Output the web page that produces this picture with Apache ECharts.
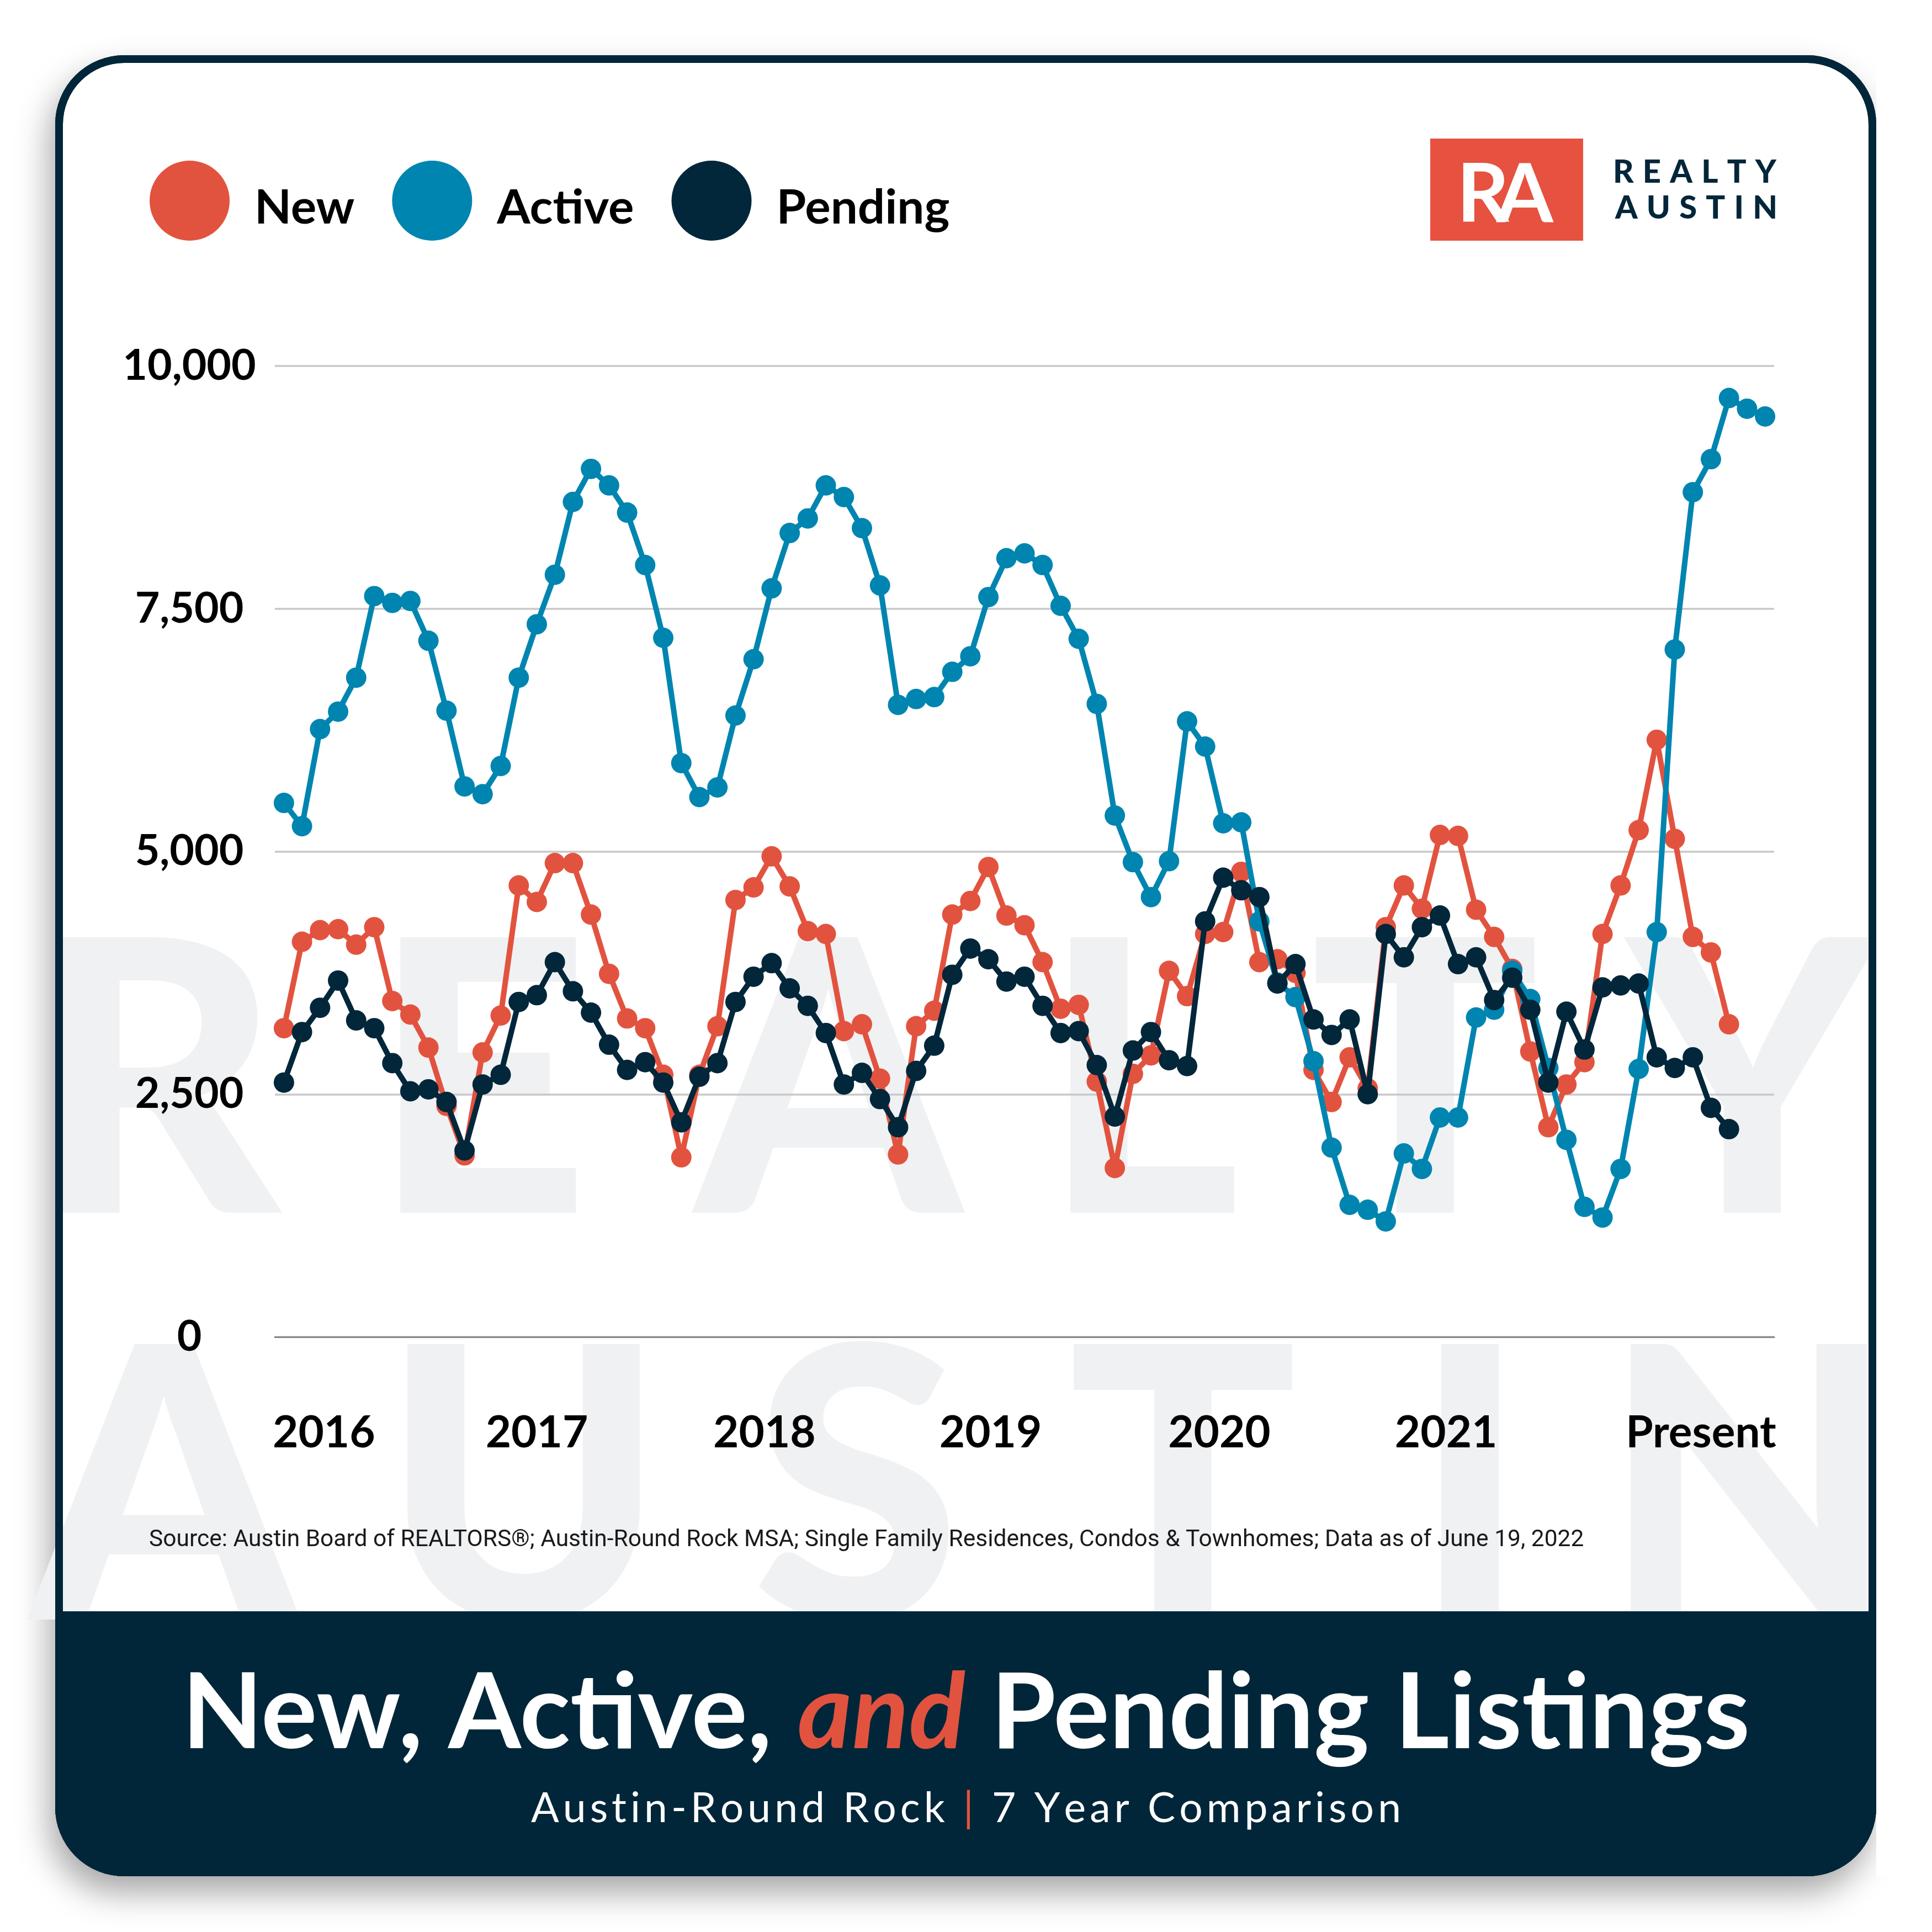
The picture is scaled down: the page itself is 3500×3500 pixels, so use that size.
<!DOCTYPE html>
<html>
<head>
<meta charset="utf-8">
<title>New, Active, and Pending Listings</title>
<script src="https://cdn.jsdelivr.net/npm/echarts/dist/echarts.min.js"></script>
<style>
  html, body { margin: 0; padding: 0; background: #ffffff; }
  #container { width: 3500px; height: 3500px; }
</style>
</head>
<body>
<div id="container"></div>
<script>
// monthly listing counts
var newListings = [3180,4070,4190,4200,4040,4220,3460,3320,2980,2380,
  1870,2930,3310,4650,4480,4880,4880,4350,3740,3280,
  3180,2700,1850,2700,3200,4500,4630,4950,4640,4180,
  4150,3150,3220,2660,1880,3200,3360,4350,4490,4840,
  4340,4240,3860,3380,3420,2630,1740,2710,2900,3770,
  3510,4150,4170,4790,3860,3890,3750,2750,2420,2880,
  2560,4220,4650,4410,5170,5160,4400,4120,3790,2940,
  2160,2600,2830,4150,4650,5220,6150,5130,4120,3960,
  3220];
var activeListings = [5500,5260,6260,6440,6790,7630,7560,7580,7170,6450,
  5670,5590,5880,6790,7340,7850,8600,8940,8770,8490,
  7950,7200,5910,5560,5660,6400,6980,7710,8280,8430,
  8770,8650,8330,7740,6510,6570,6590,6850,7010,7620,
  8020,8070,7950,7530,7190,6520,5370,4890,4530,4900,
  6340,6080,5290,5300,4280,3650,3500,2840,1950,1360,
  1310,1190,1890,1730,2260,2260,3290,3370,3770,3480,
  2770,2030,1340,1230,1730,2760,4170,7080,8700,9040,
  9670,9560,9480];
var pendingListings = [2620,3140,3390,3670,3260,3180,2820,2530,2550,2420,
  1920,2600,2700,3450,3520,3860,3560,3340,3010,2750,
  2830,2620,2210,2680,2820,3450,3710,3850,3590,3410,
  3130,2600,2720,2450,2160,2740,3000,3730,4000,3890,
  3660,3710,3410,3130,3150,2800,2270,2950,3140,2850,
  2790,4280,4730,4600,4530,3640,3840,3270,3110,3270,
  2500,4150,3910,4220,4340,3840,3910,3470,3700,3370,
  2620,3350,2960,3600,3620,3640,2880,2770,2880,2360,
  2140];
var seriesNames = ['New', 'Active', 'Pending'];
var yearLabels = ['2016', '2017', '2018', '2019', '2020', '2021', 'Present'];
var yearLabelIndex = [2, 14, 27, 39, 52, 64, 79];
var monthCount = 83;

// small horizontal nudges (px) so the year labels sit where the original put them
var labelNudge = [7, 0, -13, 4, -7, 11, -18];

var RED = '#e2533f', BLUE = '#0085b0', NAVY = '#02263a', FOOT = '#012639';

var months = [];
for (var i = 0; i < monthCount; i++) months.push(String(i));

var labelRich = {};
labelNudge.forEach(function (n, k) {
  labelRich['y' + k] = {
    fontFamily: 'Lato', fontWeight: 'bold', fontSize: 80, color: '#000000',
    padding: [0, n < 0 ? -2 * n : 0, 0, n > 0 ? 2 * n : 0]
  };
});

var measureCtx = document.createElement('canvas').getContext('2d');
// lay out a string one glyph at a time so it fills a given width (letter spacing)
function spacedText(str, font, left, width, y, colorOf, z) {
  measureCtx.font = font;
  var chars = str.split('');
  var widths = chars.map(function (c) { return measureCtx.measureText(c).width; });
  var sum = widths.reduce(function (a, b) { return a + b; }, 0);
  var gap = (width - sum) / (chars.length - 1);
  var x = left, out = [];
  chars.forEach(function (c, k) {
    if (c !== ' ') {
      out.push({
        type: 'text', x: x, y: y, z: z, silent: true,
        style: { text: c, font: font, fill: colorOf(c), align: 'left', verticalAlign: 'middle' }
      });
    }
    x += widths[k] + gap;
  });
  return out;
}

function markText(chars, xs, y) {
  return chars.split('').map(function (c, k) {
    return {
      type: 'text', x: xs[k], y: y, z: -28, silent: true,
      style: { text: c, font: '900 688px Lato', fill: '#f0f1f3', align: 'left', verticalAlign: 'middle' }
    };
  });
}

var graphics = [
  { type: 'rect', z: -30, silent: true,
    shape: { x: 100, y: 100, width: 3299, height: 3299, r: 125 },
    style: { fill: FOOT, shadowBlur: 60, shadowColor: 'rgba(0,0,0,0.35)', shadowOffsetX: -10, shadowOffsetY: 30 } },
  { type: 'rect', z: -29, silent: true,
    shape: { x: 114, y: 114, width: 3271, height: 2805, r: [111, 111, 0, 0] },
    style: { fill: '#ffffff' } }
];
graphics = graphics.concat(markText('REALTY', [61, 673, 1259, 1887, 2374, 2948], 1975));
graphics = graphics.concat(markText('AUSTIN', [55, 692, 1362, 1935, 2559, 2902], 2712));
graphics.push(
  { type: 'rect', z: -27, silent: true,
    shape: { x: 100, y: 2919, width: 3299, height: 480, r: [0, 0, 125, 125] },
    style: { fill: FOOT } },
  { type: 'rect', z: -26, silent: true,
    shape: { x: 3399, y: 100, width: 101, height: 3300 },
    style: { fill: '#ffffff' } },
  { type: 'rect', z: -25, silent: true,
    shape: { x: 107, y: 107, width: 3285, height: 3285, r: 118 },
    style: { fill: null, stroke: FOOT, lineWidth: 14 } },
  // logo
  { type: 'rect', z: 10, silent: true,
    shape: { x: 2591, y: 251, width: 277, height: 185 },
    style: { fill: '#e65140' } },
  { type: 'text', z: 11, x: 2639, y: 354, silent: true,
    style: { text: 'R', font: 'bold 148px Lato', fill: '#ffffff', verticalAlign: 'middle' } },
  { type: 'text', z: 11, x: 2711, y: 354, silent: true,
    style: { text: 'A', font: 'bold 148px Lato', fill: '#ffffff', verticalAlign: 'middle' } },
  // source line
  { type: 'text', z: 10, x: 270, y: 2790, silent: true,
    style: { text: 'Source: Austin Board of REALTORS®; Austin-Round Rock MSA; Single Family Residences, Condos & Townhomes; Data as of June 19, 2022',
      font: '42.5px Roboto', fill: '#1a1a1a', verticalAlign: 'middle' } },
  // title
  { type: 'text', z: 10, x: 1750, y: 3106, silent: true,
    style: {
      text: '{w|New, Active, }{r|and}{w| Pending Listings}',
      align: 'center', verticalAlign: 'middle',
      rich: {
        w: { fontFamily: 'Lato', fontWeight: 'bold', fontSize: 190, fill: '#ffffff' },
        r: { fontFamily: 'Lato', fontWeight: 'bold', fontStyle: 'italic', fontSize: 190, fill: RED }
      }
    } }
);
graphics = graphics.concat(spacedText('REALTY', '900 58px Lato', 2922, 296, 312, function () { return NAVY; }, 11));
graphics = graphics.concat(spacedText('AUSTIN', '900 58px Lato', 2926, 294, 377, function () { return NAVY; }, 11));
graphics = graphics.concat(spacedText('Austin-Round Rock | 7 Year Comparison', '75px Lato', 962, 1576, 3277,
  function (c) { return c === '|' ? RED : '#ffffff'; }, 10));

function lineSeries(name, data, color, z) {
  return {
    name: name,
    type: 'line',
    data: data,
    z: z,
    symbol: 'circle',
    symbolSize: 37,
    showSymbol: true,
    showAllSymbol: true,
    lineStyle: { color: color, width: 10 },
    itemStyle: { color: color },
    emphasis: { disabled: true }
  };
}

var myChart = echarts.init(document.getElementById('container'));
var option = {
  animation: false,
  backgroundColor: '#ffffff',
  graphic: graphics,
  legend: {
    data: seriesNames,
    left: 271,
    top: 291,
    padding: 0,
    icon: 'circle',
    itemWidth: 145,
    itemHeight: 145,
    itemGap: 68,
    selectedMode: false,
    formatter: function (name) { return '{t|' + name + '}'; },
    textStyle: {
      fontFamily: 'Lato', fontWeight: 'bold', fontSize: 87, color: '#000000',
      rich: {
        t: { fontFamily: 'Lato', fontWeight: 'bold', fontSize: 87, color: '#000000', padding: [26, 0, 0, 40] }
      }
    }
  },
  grid: { left: 498, right: 286, top: 663, bottom: 1078 },
  xAxis: {
    type: 'category',
    data: months,
    boundaryGap: true,
    axisTick: { show: false },
    axisLine: { lineStyle: { color: '#8a8a8a', width: 3 } },
    axisLabel: {
      interval: function (index) { return yearLabelIndex.indexOf(index) >= 0; },
      formatter: function (value, index) {
        var k = yearLabelIndex.indexOf(index);
        return '{y' + k + '|' + yearLabels[k] + '}';
      },
      rich: labelRich,
      margin: 174,
      verticalAlign: 'middle',
      fontFamily: 'Lato',
      fontWeight: 'bold',
      fontSize: 80,
      color: '#000000'
    }
  },
  yAxis: {
    type: 'value',
    min: 0,
    max: 10000,
    interval: 2500,
    axisLine: { show: false },
    axisTick: { show: false },
    splitLine: { lineStyle: { color: '#c8c8c8', width: 3.5 } },
    axisLabel: {
      margin: 155,
      align: 'center',
      fontFamily: 'Lato',
      fontWeight: 'bold',
      fontSize: 77,
      color: '#000000',
      formatter: function (v) { return v.toLocaleString('en-US'); }
    }
  },
  series: [
    lineSeries(seriesNames[0], newListings, RED, 2),
    lineSeries(seriesNames[1], activeListings, BLUE, 3),
    lineSeries(seriesNames[2], pendingListings, NAVY, 4)
  ]
};
if (option && typeof option === 'object') {
  myChart.setOption(option, true);
}
</script>
</body>
</html>
